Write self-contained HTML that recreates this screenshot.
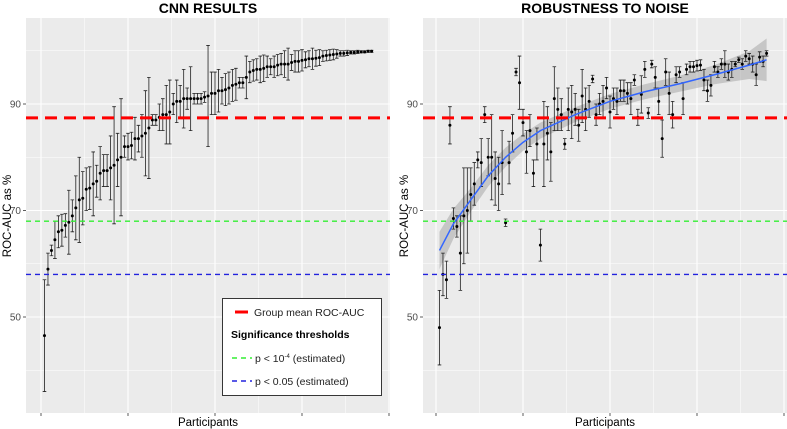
<!DOCTYPE html>
<html><head><meta charset="utf-8"><style>
body{margin:0;background:#fff;font-family:"Liberation Sans",sans-serif}
svg{display:block}
</style></head><body>
<svg id="c" width="787" height="429" xmlns="http://www.w3.org/2000/svg"></svg>
<script>
const leftMeans=[46.5,59,62.5,64.5,66,66.3,67.2,67.8,69,70.5,72,72.3,74,74.2,75,75.5,77,77.5,77.5,78,78.5,79.5,80,82,82,82.2,83.5,83.5,84,84.5,85.5,87,87,87.5,88,88,88.5,90,90.5,90.5,91,91,91,91,91,91,91.3,91.5,92,92,92.5,92.5,92.7,93,93.5,93.7,94,94,95,96,96.3,96.5,96.5,96.7,97,97,97,97.3,97.5,97.5,97.5,97.8,98,98,98.2,98.3,98.5,98.5,98.6,98.7,99,99.1,99.2,99.3,99.4,99.5,99.5,99.6,99.7,99.7,99.8,99.8,99.8,99.9,99.9];
const leftErr=[10.5,3,1,3.5,3,3,2.2,6,3,6,8,5,4,4,6,3,5,3,3,6,11,5,11,2,2.5,2.5,4,2.5,4,8,9.5,1,1,2.5,3,5.5,6,2,4,3,5.5,2,6,1,1,1,1,9.5,4,4,4,2.5,3,3,3,3,1,1,4,2,2,2,2.5,2.5,2,1.5,2,2,2,2.5,3,1.5,2,2,2,1.5,1.5,2,1.5,1.5,1,1,1,1,0.8,0.5,0.5,0.5,0.3,0.3,0.3,0.2,0.2,0.2,0.2];
const rightMeans=[48,58,57,86,68.5,67,62,69,70,73,75,79.5,79,88,80,80,76,75,79,67.7,79,84.5,96,94,86.5,81,85,77,82.5,63.5,82.5,84.5,81,91,89,88,82.5,89,88.5,89,86,91.5,89,90.5,94.7,88,90,90.5,93,88.5,91,90.5,92.5,92.5,92,91,94.5,87.5,91.8,96.5,88.3,97.5,95,90.5,83.5,96,92,88,95.5,96,91,96.5,97,97,97.2,97.3,94.5,92.5,93.5,97,96,97.5,97.5,96,96.5,97.5,98.3,97.5,99,98.5,97.5,95.5,98.8,98,99.5];
const rightErr=[7,4,3.5,3.5,2,2,7,9,8,5,4,1.5,4.5,1.5,3.5,8,5,5,6,0.7,4,3.5,0.7,5,2.5,4,3,2.5,3,3,8,5,5.5,6,4,3,1,4,5,3,3,5,4,3,0.7,2,2,3,2,3,2,2.5,2,2,2,3,1,1.5,3.5,1.5,1,0.7,2,2.5,3.5,2.5,4,2.5,1.5,1,3,1,1,1,1,1,2,2,2,1,1,1,2.5,1.5,1.5,0.5,0.5,1,1,1,1.5,2,1,1,0.5];
const smoothIdx=[1,5,10,15,20,25,30,40,50,60,70,80,90,95];
const smoothVal=[62.5,67.5,72,76.5,80,82.8,85,88,90.5,92.3,93.8,95.5,97.3,98.3];
const smoothSe=[3.5,2.8,2.2,2,1.8,1.6,1.5,1.4,1.4,1.4,1.5,1.8,2.6,4];
const yTicks=[50,70,90];
const thresholds={mean:87.4,p4:68,p05:58};

const NS="http://www.w3.org/2000/svg";
const svg=document.getElementById('c');
function el(t,a,p){const e=document.createElementNS(NS,t);for(const k in a)e.setAttribute(k,a[k]);(p||svg).appendChild(e);return e;}
const yTop=18,yBot=413;
function Y(v){return 104+(90-v)*5.325;}
function panel(x0,x1,tick0,title,means,errs,name,smooth){
  const g=el('g',{});
  
  
  const X=i=>tick0+i*3.48;
  const bg=el('rect',{x:x0,y:yTop,width:x1-x0,height:yBot-yTop,fill:'#EBEBEB'},g);
  
  for(let v=40;v<=100;v+=10){el('line',{x1:x0,x2:x1,y1:Y(v),y2:Y(v),stroke:'#fff','stroke-width':v%20==10?1.1:0.5},g);}
  for(let k=0;k<=8;k++){el('line',{x1:X(k*12.5),x2:X(k*12.5),y1:yTop,y2:yBot,stroke:'#fff','stroke-width':k%2==0?1.1:0.5},g);}
  for(let k=0;k<=4;k++){el('line',{x1:X(k*25),x2:X(k*25),y1:yBot,y2:yBot+3,stroke:'#333','stroke-width':0.8},g);}
  yTicks.forEach(v=>{
    el('line',{x1:x0-3,x2:x0,y1:Y(v),y2:Y(v),stroke:'#333','stroke-width':0.8},g);
    const t=el('text',{x:x0-5,y:Y(v)+3.5,'text-anchor':'end','font-size':10,fill:'#4d4d4d'},g);t.textContent=v;
    
  });
  const tt=el('text',{x:(x0+x1)/2,y:13,'text-anchor':'middle','font-size':14,'font-weight':'bold',fill:'#000'},g);tt.textContent=title;
  
  const xt=el('text',{x:(x0+x1)/2,y:426,'text-anchor':'middle','font-size':11.5,fill:'#000'},g);xt.textContent='Participants';
  
  const yt=el('text',{x:0,y:0,'text-anchor':'middle','font-size':11.5,fill:'#000',transform:`translate(${x0-15},216) rotate(-90)`},g);yt.textContent='ROC-AUC as %';
  
  if(smooth){
    let up='',lo='',ln='';
    smoothIdx.forEach((ix,k)=>{up+=(k?'L':'M')+X(ix)+','+Y(smoothVal[k]+smoothSe[k]);ln+=(k?'L':'M')+X(ix)+','+Y(smoothVal[k]);});
    for(let k=smoothIdx.length-1;k>=0;k--)lo+='L'+X(smoothIdx[k])+','+Y(smoothVal[k]-smoothSe[k]);
    const b=el('path',{d:up+lo+'Z',fill:'#999','fill-opacity':0.45},g);
    
  }
  means.forEach((m,i)=>{
    const x=X(i+1),e=errs[i];
    const eb=el('path',{d:`M${x},${Y(m-e)}V${Y(m+e)}M${x-1.8},${Y(m-e)}h3.6M${x-1.8},${Y(m+e)}h3.6`,stroke:'#222','stroke-width':0.8,fill:'none'},g);
    
    const p=el('circle',{cx:x,cy:Y(m),r:1.5,fill:'#000'},g);
    
  });
  if(smooth){
    let ln='';smoothIdx.forEach((ix,k)=>{ln+=(k?'L':'M')+X(ix)+','+Y(smoothVal[k]);});
    const l=el('path',{d:ln,stroke:'#3366FF','stroke-width':1.5,fill:'none'},g);
    
  }
  const r=el('line',{x1:x0,x2:x1,y1:Y(thresholds.mean),y2:Y(thresholds.mean),stroke:'#FF0000','stroke-width':3,'stroke-dasharray':'12,7'},g);
  
  const gr=el('line',{x1:x0,x2:x1,y1:Y(thresholds.p4),y2:Y(thresholds.p4),stroke:'#33EE33','stroke-width':1.4,'stroke-dasharray':'5,4'},g);
  
  const bl=el('line',{x1:x0,x2:x1,y1:Y(thresholds.p05),y2:Y(thresholds.p05),stroke:'#2222DD','stroke-width':1.4,'stroke-dasharray':'5,4'},g);
  
}
panel(26,390,41,'CNN RESULTS',leftMeans,leftErr,'cnn-results-panel',false);
panel(423,787,436,'ROBUSTNESS TO NOISE',rightMeans,rightErr,'robustness-panel',true);

const lg=el('g',{});

el('rect',{x:222.5,y:298.5,width:159,height:97,fill:'#fff',stroke:'#222','stroke-width':0.9},lg);
el('line',{x1:235,x2:248,y1:312,y2:312,stroke:'#FF0000','stroke-width':3},lg);
let t=el('text',{x:254,y:316,'font-size':10.5,fill:'#222'},lg);t.textContent='Group mean ROC-AUC';

t=el('text',{x:231,y:338,'font-size':10.5,'font-weight':'bold',fill:'#000'},lg);t.textContent='Significance thresholds';

el('line',{x1:232,x2:252,y1:358,y2:358,stroke:'#33EE33','stroke-width':1.4,'stroke-dasharray':'5,4'},lg);
t=el('text',{x:255,y:362,'font-size':10.5,fill:'#222'},lg);t.innerHTML='p &lt; 10<tspan font-size="6" dy="-4">-4</tspan><tspan dy="4"> (estimated)</tspan>';

el('line',{x1:232,x2:252,y1:381,y2:381,stroke:'#2222DD','stroke-width':1.4,'stroke-dasharray':'5,4'},lg);
t=el('text',{x:255,y:385,'font-size':10.5,fill:'#222'},lg);t.textContent='p < 0.05 (estimated)';

</script>
</body></html>
